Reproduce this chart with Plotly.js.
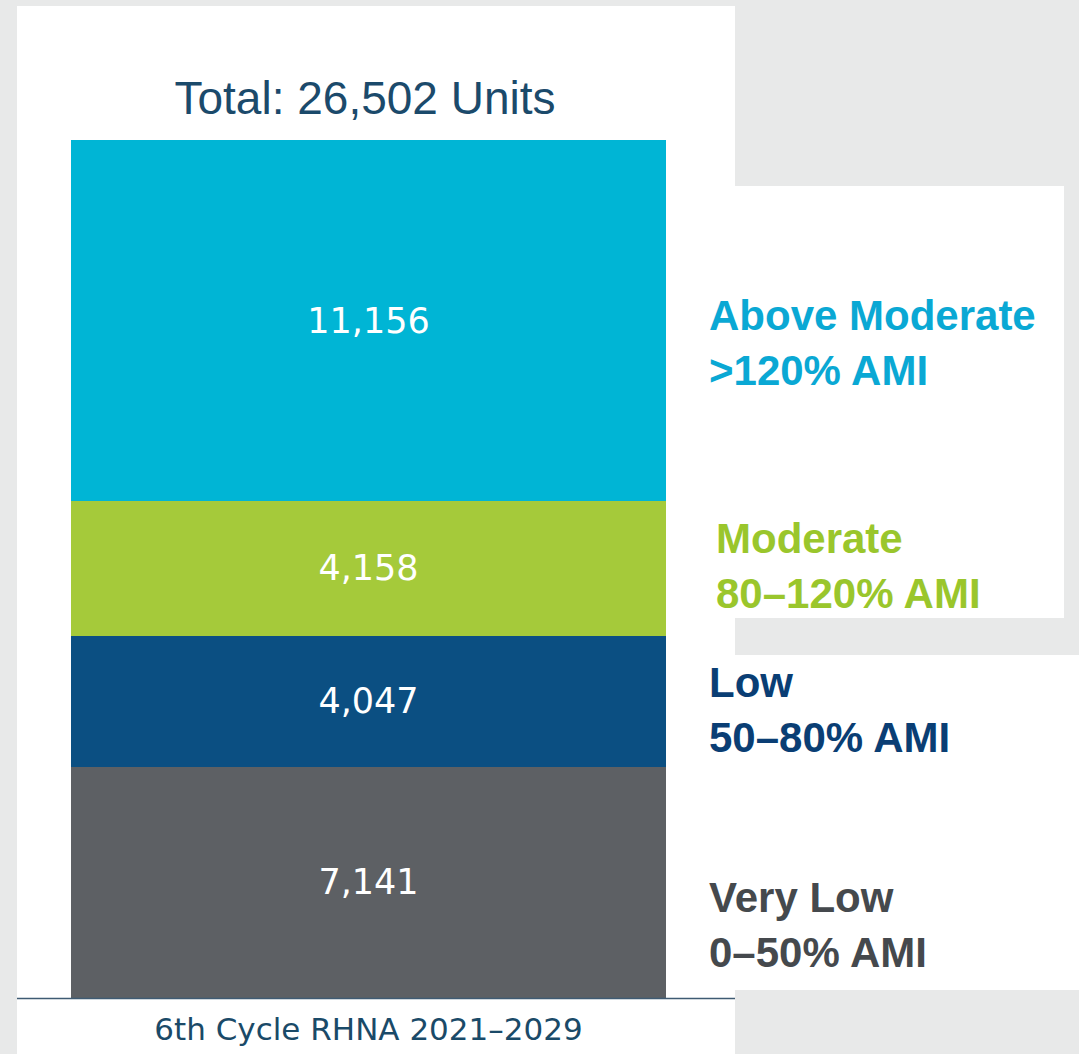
<!DOCTYPE html>
<html>
<head>
<meta charset="utf-8">
<script src="https://cdn.plot.ly/plotly-3.0.1.min.js"></script>
<style>
  html, body { margin: 0; padding: 0; background: #e8e9e9; }
  #chart { width: 1079px; height: 1054px; }
</style>
</head>
<body>
<div id="chart"></div>
<script>
// ---- Data ----
const cycleLabel = '6th Cycle RHNA 2021–2029';
const categories = ['Very Low', 'Low', 'Moderate', 'Above Moderate'];
const amiRanges = ['0–50% AMI', '50–80% AMI', '80–120% AMI', '>120% AMI'];
const units = [7141, 4047, 4158, 11156];

// ---- Styles ----
const barColors = ['#5d6064', '#0b4f82', '#a5ca3a', '#00b5d5'];
const labelColors = ['#45494d', '#0a3e74', '#9ac62c', '#0aa8d4'];
const labelX = [707, 707, 714, 707];          // px from left
const labelY = [925, 710, 566, 343];          // px from top (centre)

const W = 1079, H = 1054;
const px = v => v / W;
const py = v => 1 - v / H;

const total = units.reduce((a, b) => a + b, 0);

const traces = categories.map((c, i) => ({
  type: 'bar',
  name: c,
  x: [cycleLabel],
  y: [units[i]],
  text: [units[i].toLocaleString('en-US')],
  textposition: 'inside',
  insidetextanchor: 'middle',
  textfont: { family: 'DejaVu Sans', size: 35, color: '#ffffff' },
  marker: { color: barColors[i], line: { width: 0 } },
  width: 1,
  hoverinfo: 'skip',
  showlegend: false
}));

const annotations = categories.map((c, i) => ({
  xref: 'paper', yref: 'paper',
  x: px(labelX[i]), y: py(labelY[i]),
  xanchor: 'left', yanchor: 'middle',
  align: 'left',
  showarrow: false,
  text: '<b>' + c + '</b><br><b>' + amiRanges[i] + '</b>',
  font: { family: 'Liberation Sans, Arial, sans-serif', size: 42, color: labelColors[i] }
}));

const shapes = [
  { type: 'rect', xref: 'paper', yref: 'paper', layer: 'below',
    x0: px(17), x1: px(735), y0: py(1054), y1: py(6),
    fillcolor: '#ffffff', line: { width: 0 } },
  { type: 'rect', xref: 'paper', yref: 'paper', layer: 'below',
    x0: px(735), x1: px(1064), y0: py(618), y1: py(186),
    fillcolor: '#ffffff', line: { width: 0 } },
  { type: 'rect', xref: 'paper', yref: 'paper', layer: 'below',
    x0: px(735), x1: px(1079), y0: py(990), y1: py(655),
    fillcolor: '#ffffff', line: { width: 0 } },
  { type: 'line', xref: 'paper', yref: 'paper', layer: 'above',
    x0: px(17), x1: px(735), y0: py(998.5), y1: py(998.5),
    line: { color: '#3f5b73', width: 1.5 } }
];

const layout = {
  width: W, height: H,
  margin: { l: 0, r: 0, t: 0, b: 0 },
  paper_bgcolor: '#e8e9e9',
  plot_bgcolor: 'rgba(0,0,0,0)',
  barmode: 'stack',
  bargap: 0,
  showlegend: false,
  title: {
    text: 'Total: ' + total.toLocaleString('en-US') + ' Units',
    xref: 'paper', yref: 'paper',
    x: px(365), y: py(98),
    xanchor: 'center', yanchor: 'middle',
    font: { family: 'Liberation Sans, Arial, sans-serif', size: 46, color: '#1b4a6b' }
  },
  xaxis: {
    domain: [px(71), px(666)],
    type: 'category',
    range: [-0.5, 0.5],
    showgrid: false, zeroline: false, showline: false,
    ticks: '',
    tickfont: { family: 'DejaVu Sans', size: 31, color: '#1a4a68' },
    ticklabelstandoff: 10,
    fixedrange: true
  },
  yaxis: {
    domain: [1 - 998 / H, 1 - 140 / H],
    range: [0, total],
    visible: false,
    showgrid: false, zeroline: false,
    fixedrange: true
  },
  shapes: shapes,
  annotations: annotations
};

Plotly.newPlot('chart', traces, layout, { displayModeBar: false, staticPlot: true });
</script>
</body>
</html>
